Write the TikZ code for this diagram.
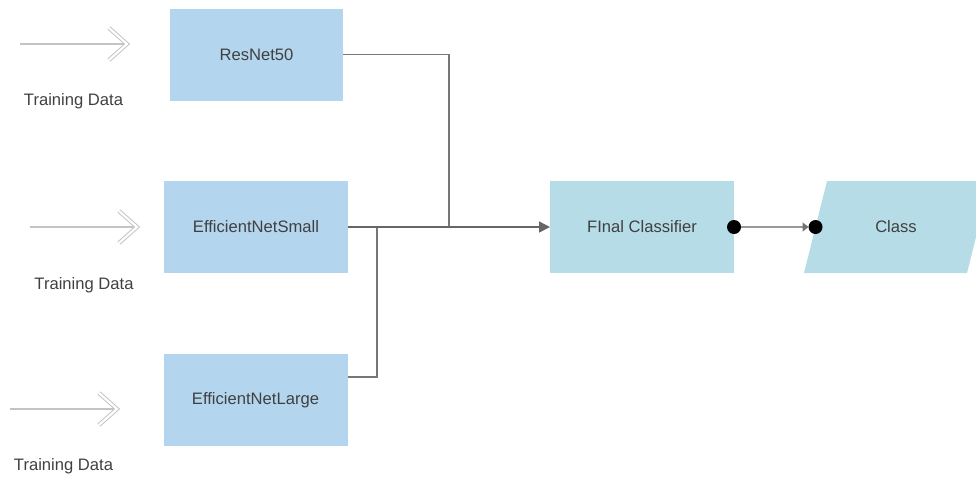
\documentclass[tikz,border=0pt]{standalone}
\usepackage{fontspec}
\setmainfont{Liberation Sans}
\usetikzlibrary{arrows.meta}

\definecolor{netblue}{HTML}{B3D6EE}
\definecolor{outteal}{HTML}{B6DCE8}
\definecolor{txtgray}{HTML}{404040}
\definecolor{linkgray}{HTML}{777777}
\definecolor{feedgray}{HTML}{C4C4C4}

\tikzset{
  boxfont/.style={text=txtgray, font=\fontsize{16.6}{19}\selectfont},
  netbox/.style={rectangle, fill=netblue, minimum width=184pt, minimum height=92pt,
    inner sep=0pt, outer sep=0pt, boxfont},
  outbox/.style={netbox, fill=outteal},
  feedlabel/.style={boxfont, inner sep=0pt},
  feedline/.style={draw=feedgray, line width=1.5pt},
  chevron/.style={draw=feedgray, line width=1pt, double=white, double distance=2.2pt,
    line join=miter},
  link/.style={draw=linkgray, line width=1.5pt},
  dot/.style={circle, fill=black, minimum size=14pt, inner sep=0pt, outer sep=0pt}
}

\begin{document}
\begin{tikzpicture}[x=1pt, y=-1pt]
\useasboundingbox (0,0) rectangle (976,477);

% network boxes
\node[netbox, minimum width=173pt] (res) at (256.5,54.5) {ResNet50};
\node[netbox] (effs) at (256,227) {EfficientNetSmall};
\node[netbox] (effl) at (255.5,400) {EfficientNetLarge};
\node[outbox] (fc) at (642,227) {FInal Classifier};

% output shape: slanted parallelogram
\fill[outteal] (804,273) -- (827,181) -- (990,181) -- (967,273) -- cycle;
\node[boxfont, inner sep=0pt] (cls) at (896,227) {Class};
\coordinate (clsin) at (815.5,227);

% incoming training data arrows
\foreach \n/\x/\y/\lx/\ly in {a/20/44/73.5/101, b/30/227/84/285, c/10/409/63.5/466} {
  \coordinate (in\n) at (\x,\y);
  \coordinate (tip\n) at (\x+107,\y);
  \draw[feedline] (in\n) -- ([xshift=-2pt]tip\n);
  \draw[chevron] ([shift={(-18,-16)}]tip\n) -- (tip\n) -- ([shift={(-18,16)}]tip\n);
  \node[feedlabel] (lab\n) at (\lx,\ly) {Training Data};
}

% merging connectors
\coordinate (jres) at (449,227);
\coordinate (jeffl) at (377,227);
\draw[link] (res.east) -| (jres);
\draw[link] (effl.east |- 0,377) -| (jeffl);
\draw[link, draw=black!60, -{Triangle[length=11pt,width=11pt]}] (effs.east) -- (fc.west);

% output connector
\node[dot] (d1) at (fc.east) {};
\node[dot] (d2) at (clsin) {};
\draw[draw=black!40, line width=1.5pt, -{Triangle[length=6pt,width=9pt,color=black!55]}] (d1) -- (d2);
\end{tikzpicture}
\end{document}
